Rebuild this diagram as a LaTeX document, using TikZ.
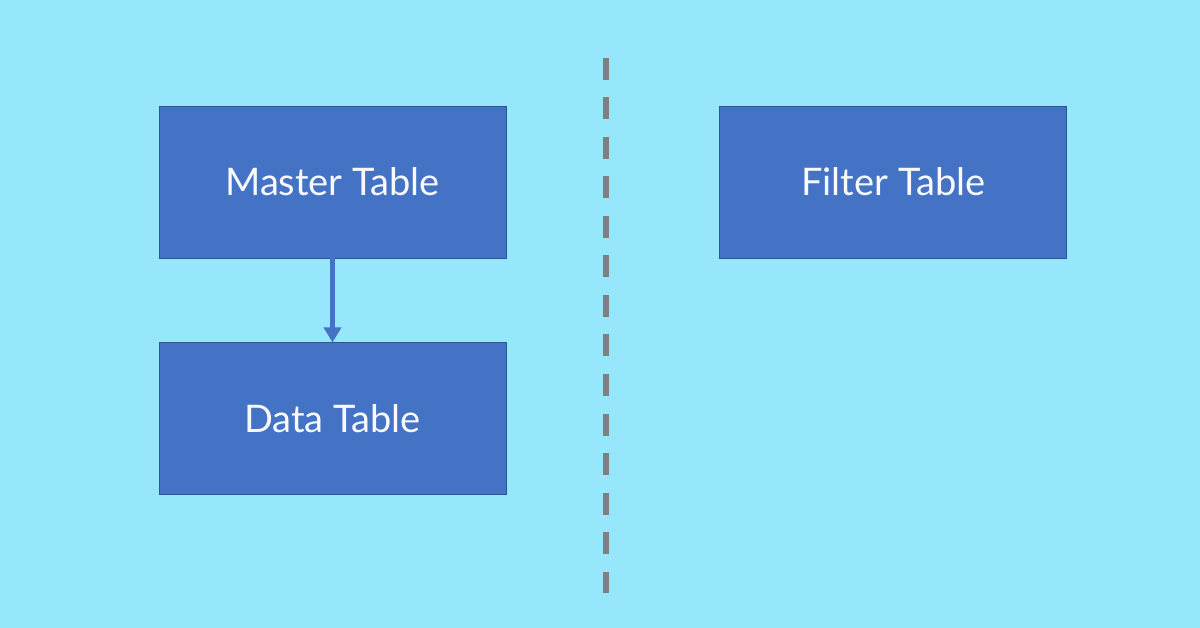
\documentclass[tikz,border=0pt]{standalone}
\usepackage{fontspec}
\setmainfont{Lato}
\usetikzlibrary{positioning,arrows.meta}
\definecolor{bgcyan}{HTML}{96E6FC}
\definecolor{boxblue}{HTML}{4472C4}
\definecolor{boxedge}{HTML}{2F5597}
\definecolor{dashgray}{HTML}{7F7F7F}
\begin{document}
\begin{tikzpicture}[x=1pt, y=-1pt]
\tikzset{tablebox/.style={draw=boxedge, line width=0.8pt, fill=boxblue, minimum width=347pt, minimum height=152pt, inner sep=0pt, text=white!96!boxblue, font=\fontsize{38}{45}\selectfont}}
    \fill[bgcyan] (0, 0) rectangle (1200, 628);
    \useasboundingbox (0, 0) rectangle (1200, 628);

    \node[tablebox] (master) at (332.5, 182) {Master Table};
    \node[tablebox, below=84pt of master] (data) {Data Table};
    \node[tablebox, right=213pt of master] (filter) {Filter Table};

    \draw[-{Triangle[width=17pt, length=15pt]}, boxblue, line width=5pt] (master.south) -- (data.north);

    \coordinate (divtop) at (606, 58);
    \coordinate (divbot) at (606, 593);
    \draw[dashgray, line width=6pt, dash pattern=on 22pt off 17.5pt] (divtop) -- (divbot);
\end{tikzpicture}
\end{document}
